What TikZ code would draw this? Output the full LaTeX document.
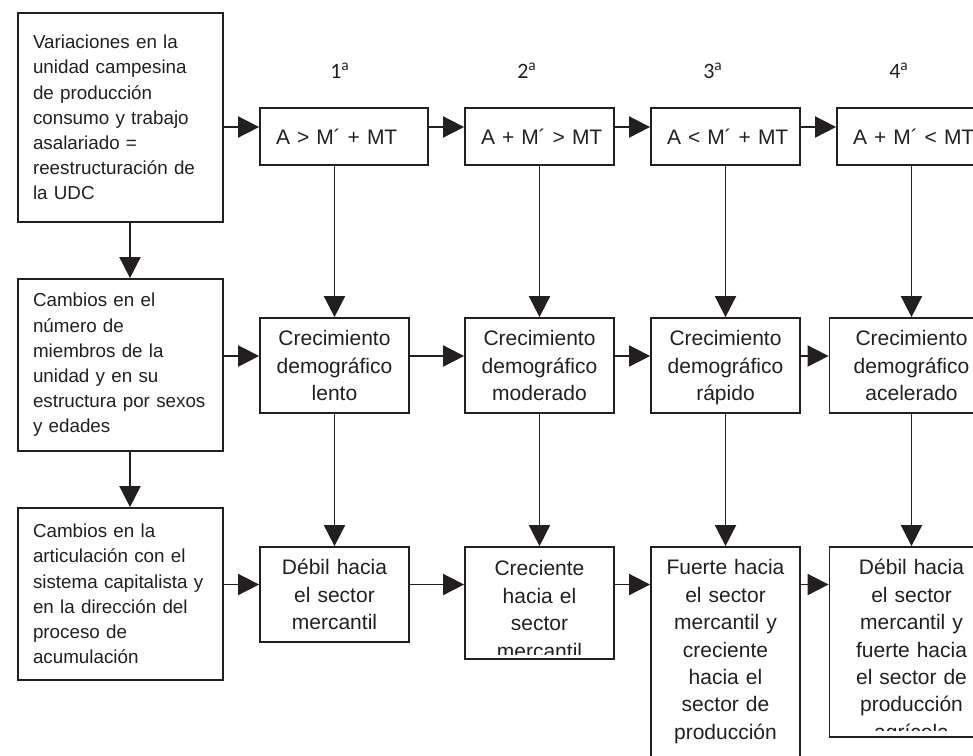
\documentclass[tikz,border=0pt]{standalone}
\usepackage{fontspec}
\setmainfont{Liberation Sans}
\newfontfamily\ordfont{Carlito}
\usetikzlibrary{arrows.meta}
\definecolor{ink}{RGB}{35,31,32}
\newlength{\unitpx}
\setlength{\unitpx}{0.02cm}

\tikzset{
  sidebox/.style={draw, minimum width=205\unitpx, minimum height=172\unitpx,
    text width=175\unitpx, inner xsep=15\unitpx, inner ysep=0pt, align=left,
    font=\fontsize{10.7pt}{14.34pt}\selectfont},
  formbox/.style={draw, minimum height=57\unitpx, text width=117\unitpx,
    inner xsep=16\unitpx, inner ysep=0pt, align=left,
    font=\fontsize{11.95pt}{15.65pt}\selectfont},
  growbox/.style={draw, minimum width=149\unitpx, minimum height=95\unitpx,
    text width=127\unitpx, inner xsep=11\unitpx, inner ysep=0pt, align=center,
    font=\fontsize{11.95pt}{15.65pt}\selectfont},
  growtext/.style={text width=127\unitpx, inner sep=0pt, align=center, anchor=base,
    font=\fontsize{11.95pt}{15.65pt}\selectfont},
  ordlabel/.style={anchor=base, font=\ordfont\fontsize{12.5pt}{15pt}\selectfont},
  arr/.style={-{Triangle[length=12pt, width=12pt]}}
}

\begin{document}
\begin{tikzpicture}[x=0.02cm, y=-0.02cm, line width=1pt, color=ink]
\clip (0,0) rectangle (973,755);

% left column
\node[sidebox, minimum height=209\unitpx] (l1) at (120.5,117.5) {Variaciones en la\\ unidad campesina\\ de producción\\ consumo y trabajo\\ asalariado =\\ reestructuración de\\ la UDC};
\node[sidebox] (l2) at (120.5,365) {Cambios en el\\ número de\\ miembros de la\\ unidad y en su\\ estructura por sexos\\ y edades};
\node[sidebox] (l3) at (120.5,594) {Cambios en la\\ articulación con el\\ sistema capitalista y\\ en la dirección del\\ proceso de\\ acumulación};

% stage numbers
\node[ordlabel] (o1) at (340,78) {1\textsuperscript{a}};
\node[ordlabel] (o2) at (527,78) {2\textsuperscript{a}};
\node[ordlabel] (o3) at (713,78) {3\textsuperscript{a}};
\node[ordlabel] (o4) at (899,78) {4\textsuperscript{a}};

% first row
\node[formbox, text width=136\unitpx] (r1a) at (344,136.5) {A~>~M´~+~MT};
\node[formbox] (r1b) at (539.5,136.5) {A~+~M´~>~MT};
\node[formbox] (r1c) at (725.5,136.5) {A~<~M´~+~MT};
\node[formbox] (r1d) at (911.5,136.5) {A~+~M´~<~MT};

% second row
\node[growbox] (r2a) at (334.5,365.5) {Crecimiento\\ demográfico\\ lento};
\node[growbox] (r2b) at (539.5,365.5) {Crecimiento\\ demográfico\\ moderado};
\node[growbox] (r2c) at (725.5,365.5) {Crecimiento\\ demográfico\\ rá\smash{p}ido};
\node[growbox, minimum width=134\unitpx] (r2d) at (904,365.5) {};
\node[growtext, anchor=center] (t2d) at (911.5,365.5) {Crecimiento\\ demográfico\\ acelerado};

% third row
\node[growbox] (r3a) at (334.5,594.5) {Débil hacia\\ el sector\\ mercantil};
\node[growbox, minimum height=112\unitpx] (r3b) at (539.5,603) {};
\node[growbox, minimum height=253\unitpx] (r3c) at (725.5,673.5) {};
\node[growbox, minimum width=134\unitpx, minimum height=190\unitpx] (r3d) at (904,642) {};
\begin{scope}
\clip (465,547) rectangle (614,654);
\node[growtext] (t3b) at (539.5,575.5) {Creciente\\ hacia el\\ sector\\ mercantil};
\end{scope}
\node[growtext] (t3c) at (725.5,574.5) {Fuerte hacia\\ el sector\\ mercantil y\\ creciente\\ hacia el\\ sector de\\ producción};
\begin{scope}
\clip (837,547) rectangle (971,730);
\node[growtext] (t3d) at (911.5,574.5) {Débil hacia\\ el sector\\ mercantil y\\ fuerte hacia\\ el sector de\\ producción\\ agrícola};
\end{scope}

% connectors
\coordinate (lx) at (130,0);
\coordinate (y1) at (0,127);
\coordinate (y2) at (0,356);
\coordinate (y3) at (0,584.5);
\draw[arr] (l1.south -| lx) -- (l2.north -| lx);
\draw[arr] (l2.south -| lx) -- (l3.north -| lx);

\draw[arr] (l1.east |- y1) -- (r1a.west |- y1);
\draw[arr] (r1a.east |- y1) -- (r1b.west |- y1);
\draw[arr] (r1b.east |- y1) -- (r1c.west |- y1);
\draw[arr] (r1c.east |- y1) -- (r1d.west |- y1);

\draw[arr] (l2.east |- y2) -- (r2a.west |- y2);
\draw[arr] (r2a.east |- y2) -- (r2b.west |- y2);
\draw[arr] (r2b.east |- y2) -- (r2c.west |- y2);
\draw[arr] (r2c.east |- y2) -- (r2d.west |- y2);

\draw[arr] (l3.east |- y3) -- (r3a.west |- y3);
\draw[arr] (r3a.east |- y3) -- (r3b.west |- y3);
\draw[arr] (r3b.east |- y3) -- (r3c.west |- y3);
\draw[arr] (r3c.east |- y3) -- (r3d.west |- y3);

\draw[arr] (r2a |- r1a.south) -- (r2a.north);
\draw[arr] (r1b.south) -- (r2b.north);
\draw[arr] (r1c.south) -- (r2c.north);
\draw[arr] (r1d.south) -- (r1d.south |- r2d.north);

\draw[arr] (r2a.south) -- (r3a.north);
\draw[arr] (r2b.south) -- (r3b.north);
\draw[arr] (r2c.south) -- (r3c.north);
\draw[arr] (t2d |- r2d.south) -- (t2d |- r3d.north);
\end{tikzpicture}
\end{document}
